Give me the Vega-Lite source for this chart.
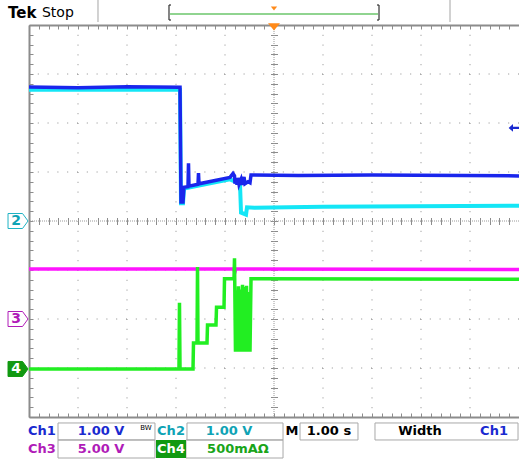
{
  "$schema": "https://vega.github.io/schema/vega-lite/v6.json",
  "width": 490,
  "height": 392,
  "autosize": {"type": "none"},
  "padding": {"left": 29, "top": 25, "right": 0, "bottom": 44},
  "background": "white",
  "config": {
    "view": {"stroke": null},
    "axis": {"grid": false, "labels": false, "title": null, "domain": false, "tickColor": "#8c8c8c", "tickWidth": 1}
  },
  "resolve": {"axis": {"x": "independent", "y": "independent"}},
  "datasets": {
    "gx": [{"v": -4}, {"v": -3}, {"v": -2}, {"v": -1}, {"v": 1}, {"v": 2}, {"v": 3}, {"v": 4}],
    "gy": [{"v": -3}, {"v": -2}, {"v": -1}, {"v": 1}, {"v": 2}, {"v": 3}],
    "center": [{"v": 0}],
    "ch1": [
      {"i": 0, "t": -5.0, "v": 2.735}, {"i": 1, "t": -4.0, "v": 2.72}, {"i": 2, "t": -3.0, "v": 2.74},
      {"i": 3, "t": -1.918, "v": 2.73}, {"i": 4, "t": -1.898, "v": 0.39}, {"i": 5, "t": -1.857, "v": 0.39},
      {"i": 6, "t": -1.837, "v": 0.69}, {"i": 7, "t": -1.755, "v": 0.70}, {"i": 8, "t": -1.745, "v": 1.18},
      {"i": 9, "t": -1.735, "v": 0.71}, {"i": 10, "t": -1.551, "v": 0.75}, {"i": 11, "t": -1.541, "v": 0.98},
      {"i": 12, "t": -1.531, "v": 0.76}, {"i": 13, "t": -0.898, "v": 0.89}, {"i": 14, "t": -0.837, "v": 0.97},
      {"i": 15, "t": -0.806, "v": 0.92}, {"i": 16, "t": -0.796, "v": 0.76}, {"i": 17, "t": -0.776, "v": 0.86},
      {"i": 18, "t": -0.755, "v": 0.74}, {"i": 19, "t": -0.735, "v": 0.88}, {"i": 20, "t": -0.714, "v": 0.75},
      {"i": 21, "t": -0.673, "v": 0.85}, {"i": 22, "t": -0.653, "v": 0.74}, {"i": 23, "t": -0.612, "v": 0.90},
      {"i": 24, "t": -0.592, "v": 0.76}, {"i": 25, "t": -0.531, "v": 0.80}, {"i": 26, "t": -0.49, "v": 0.78},
      {"i": 27, "t": -0.469, "v": 0.94}, {"i": 28, "t": 0.5, "v": 0.93}, {"i": 29, "t": 2.0, "v": 0.94},
      {"i": 30, "t": 5.0, "v": 0.92}
    ],
    "ch2": [
      {"i": 0, "t": -5.0, "v": 2.68}, {"i": 1, "t": -1.918, "v": 2.68}, {"i": 2, "t": -1.898, "v": 0.36},
      {"i": 3, "t": -1.857, "v": 0.36}, {"i": 4, "t": -1.837, "v": 0.66}, {"i": 5, "t": -0.898, "v": 0.85},
      {"i": 6, "t": -0.694, "v": 0.76}, {"i": 7, "t": -0.673, "v": 0.17}, {"i": 8, "t": -0.571, "v": 0.13},
      {"i": 9, "t": -0.551, "v": 0.28}, {"i": 10, "t": -0.4, "v": 0.27}, {"i": 11, "t": 1.0, "v": 0.29},
      {"i": 12, "t": 5.0, "v": 0.31}
    ],
    "ch3": [
      {"i": 0, "t": -5.0, "v": -0.98}, {"i": 1, "t": -0.82, "v": -0.98}, {"i": 2, "t": -0.8, "v": -1.05},
      {"i": 3, "t": -0.78, "v": -0.98}, {"i": 4, "t": 5.0, "v": -0.99}
    ],
    "ch4": [
      {"i": 0, "t": -5.0, "v": -3.02}, {"i": 1, "t": -1.939, "v": -3.02}, {"i": 2, "t": -1.929, "v": -1.67},
      {"i": 3, "t": -1.918, "v": -3.02}, {"i": 4, "t": -1.653, "v": -3.02}, {"i": 5, "t": -1.643, "v": -2.49},
      {"i": 6, "t": -1.571, "v": -2.49}, {"i": 7, "t": -1.561, "v": -0.94}, {"i": 8, "t": -1.551, "v": -2.49},
      {"i": 9, "t": -1.367, "v": -2.49}, {"i": 10, "t": -1.357, "v": -2.12}, {"i": 11, "t": -1.184, "v": -2.12},
      {"i": 12, "t": -1.173, "v": -1.76}, {"i": 13, "t": -1.02, "v": -1.76}, {"i": 14, "t": -1.01, "v": -1.18},
      {"i": 15, "t": -0.816, "v": -1.18}, {"i": 16, "t": -0.806, "v": -0.76}, {"i": 17, "t": -0.786, "v": -2.67},
      {"i": 18, "t": -0.766, "v": -1.42}, {"i": 19, "t": -0.745, "v": -2.67}, {"i": 20, "t": -0.725, "v": -1.33},
      {"i": 21, "t": -0.704, "v": -2.67}, {"i": 22, "t": -0.684, "v": -1.40}, {"i": 23, "t": -0.663, "v": -2.67},
      {"i": 24, "t": -0.643, "v": -1.30}, {"i": 25, "t": -0.622, "v": -2.67}, {"i": 26, "t": -0.602, "v": -1.35},
      {"i": 27, "t": -0.582, "v": -2.67}, {"i": 28, "t": -0.561, "v": -1.32}, {"i": 29, "t": -0.541, "v": -2.67},
      {"i": 30, "t": -0.520, "v": -1.45}, {"i": 31, "t": -0.49, "v": -2.67}, {"i": 32, "t": -0.469, "v": -1.18},
      {"i": 33, "t": 5.0, "v": -1.19}
    ],
    "markers": [
      {"t": -5.224, "v": 0, "k": "c2", "f": "w", "s": "2", "tk": "c2"},
      {"t": -5.224, "v": -2.0, "k": "c3", "f": "w", "s": "3", "tk": "c3"},
      {"t": -5.224, "v": -3.02, "k": "c4", "f": "c4", "s": "4", "tk": "w"}
    ],
    "arrow": [{"t": 4.9, "v": 1.9}],
    "trig": [{"t": 0, "v": 3.96}],
    "trigTop": [{"t": 0, "v": 4.337}],
    "segs": [
      {"x1": -3.592, "x2": -3.592, "y1": 4.51, "y2": 4.061, "k": "gr"},
      {"x1": 3.592, "x2": 3.592, "y1": 4.51, "y2": 4.061, "k": "gr"},
      {"x1": -2.143, "x2": -2.143, "y1": 4.408, "y2": 4.102, "k": "dk"},
      {"x1": -2.143, "x2": -2.102, "y1": 4.408, "y2": 4.408, "k": "dk"},
      {"x1": -2.143, "x2": -2.102, "y1": 4.102, "y2": 4.102, "k": "dk"},
      {"x1": 2.143, "x2": 2.143, "y1": 4.408, "y2": 4.102, "k": "dk"},
      {"x1": 2.102, "x2": 2.143, "y1": 4.408, "y2": 4.408, "k": "dk"},
      {"x1": 2.102, "x2": 2.143, "y1": 4.102, "y2": 4.102, "k": "dk"},
      {"x1": -2.122, "x2": 2.122, "y1": 4.224, "y2": 4.224, "k": "gn"}
    ],
    "boxes": [
      {"x1": -4.408, "x2": -2.429, "y1": -4.122, "y2": -4.469},
      {"x1": -1.776, "x2": 0.184, "y1": -4.122, "y2": -4.469},
      {"x1": 0.531, "x2": 1.714, "y1": -4.122, "y2": -4.469},
      {"x1": 2.061, "x2": 4.98, "y1": -4.122, "y2": -4.469},
      {"x1": -4.408, "x2": -2.429, "y1": -4.469, "y2": -4.837},
      {"x1": -1.796, "x2": 0.184, "y1": -4.469, "y2": -4.837}
    ],
    "ch4bg": [{"x1": -2.408, "x2": -1.796, "y1": -4.469, "y2": -4.837}],
    "status": [
      {"t": -4.735, "v": -4.286, "s": "Ch1", "k": "c1"},
      {"t": -3.531, "v": -4.286, "s": "1.00 V", "k": "c1"},
      {"t": -2.102, "v": -4.286, "s": "Ch2", "k": "c2"},
      {"t": -0.918, "v": -4.286, "s": "1.00 V", "k": "c2"},
      {"t": 0.367, "v": -4.286, "s": "M", "k": "k"},
      {"t": 1.122, "v": -4.286, "s": "1.00 s", "k": "k"},
      {"t": 2.98, "v": -4.286, "s": "Width", "k": "k"},
      {"t": 4.49, "v": -4.286, "s": "Ch1", "k": "c1"},
      {"t": -4.735, "v": -4.653, "s": "Ch3", "k": "c3"},
      {"t": -3.531, "v": -4.653, "s": "5.00 V", "k": "c3"},
      {"t": -2.102, "v": -4.653, "s": "Ch4", "k": "w"},
      {"t": -0.735, "v": -4.653, "s": "500mAΩ", "k": "c4"}
    ],
    "bw": [{"t": -2.612, "v": -4.224, "s": "BW"}],
    "tek": [{"t": -5.429, "v": 4.245, "s": "Tek"}],
    "stop": [{"t": -4.735, "v": 4.245, "s": "Stop"}]
  },
  "layer": [
    {
      "data": {"name": "gx"},
      "mark": {"type": "rule", "color": "#8c8c8c", "strokeDash": [1, 8.8], "strokeWidth": 1},
      "encoding": {
        "x": {"field": "v", "type": "quantitative", "scale": {"domain": [-5, 5], "nice": false, "zero": false},
          "axis": {"orient": "bottom", "values": [-5,-4.8,-4.6,-4.4,-4.2,-4,-3.8,-3.6,-3.4,-3.2,-3,-2.8,-2.6,-2.4,-2.2,-2,-1.8,-1.6,-1.4,-1.2,-1,-0.8,-0.6,-0.4,-0.2,0,0.2,0.4,0.6,0.8,1,1.2,1.4,1.6,1.8,2,2.2,2.4,2.6,2.8,3,3.2,3.4,3.6,3.8,4,4.2,4.4,4.6,4.8,5], "tickSize": -4, "domain": true, "domainColor": "#8c8c8c", "domainWidth": 2}}
      }
    },
    {
      "data": {"name": "gy"},
      "mark": {"type": "rule", "color": "#8c8c8c", "strokeDash": [1, 8.8], "strokeWidth": 1},
      "encoding": {
        "y": {"field": "v", "type": "quantitative", "scale": {"domain": [-4, 4], "nice": false, "zero": false},
          "axis": {"orient": "left", "values": [-4,-3.8,-3.6,-3.4,-3.2,-3,-2.8,-2.6,-2.4,-2.2,-2,-1.8,-1.6,-1.4,-1.2,-1,-0.8,-0.6,-0.4,-0.2,0,0.2,0.4,0.6,0.8,1,1.2,1.4,1.6,1.8,2,2.2,2.4,2.6,2.8,3,3.2,3.4,3.6,3.8,4], "tickSize": -4, "domain": true, "domainColor": "#8c8c8c", "domainWidth": 2}}
      }
    },
    {
      "data": {"name": "center"},
      "mark": {"type": "rule", "color": "#9a9a9a", "strokeDash": [1, 1], "strokeWidth": 1},
      "encoding": {
        "x": {"field": "v", "type": "quantitative", "scale": {"domain": [-5, 5], "nice": false, "zero": false},
          "axis": {"orient": "top", "values": [-5,-4.8,-4.6,-4.4,-4.2,-4,-3.8,-3.6,-3.4,-3.2,-3,-2.8,-2.6,-2.4,-2.2,-2,-1.8,-1.6,-1.4,-1.2,-1,-0.8,-0.6,-0.4,-0.2,0,0.2,0.4,0.6,0.8,1,1.2,1.4,1.6,1.8,2,2.2,2.4,2.6,2.8,3,3.2,3.4,3.6,3.8,4,4.2,4.4,4.6,4.8,5], "tickSize": -4, "domain": true, "domainColor": "#8c8c8c", "domainWidth": 2}}
      }
    },
    {
      "data": {"name": "center"},
      "mark": {"type": "rule", "color": "#9a9a9a", "strokeDash": [1, 1], "strokeWidth": 1},
      "encoding": {
        "y": {"field": "v", "type": "quantitative", "scale": {"domain": [-4, 4], "nice": false, "zero": false},
          "axis": {"orient": "left", "offset": -248.5, "values": [-4,-3.8,-3.6,-3.4,-3.2,-3,-2.8,-2.6,-2.4,-2.2,-2,-1.8,-1.6,-1.4,-1.2,-1,-0.8,-0.6,-0.4,-0.2,0,0.2,0.4,0.6,0.8,1,1.2,1.4,1.6,1.8,2,2.2,2.4,2.6,2.8,3,3.2,3.4,3.6,3.8,4], "tickSize": 7}}
      }
    },
    {
      "data": {"name": "ch3"},
      "mark": {"type": "line", "color": "#ff14ff", "strokeWidth": 3.5},
      "encoding": {
        "x": {"field": "t", "type": "quantitative", "scale": {"domain": [-5, 5], "nice": false, "zero": false},
          "axis": {"orient": "bottom", "offset": -199.5, "values": [-5,-4.8,-4.6,-4.4,-4.2,-4,-3.8,-3.6,-3.4,-3.2,-3,-2.8,-2.6,-2.4,-2.2,-2,-1.8,-1.6,-1.4,-1.2,-1,-0.8,-0.6,-0.4,-0.2,0,0.2,0.4,0.6,0.8,1,1.2,1.4,1.6,1.8,2,2.2,2.4,2.6,2.8,3,3.2,3.4,3.6,3.8,4,4.2,4.4,4.6,4.8,5], "tickSize": 7}},
        "y": {"field": "v", "type": "quantitative", "scale": {"domain": [-4, 4], "nice": false, "zero": false}, "axis": null},
        "order": {"field": "i", "type": "quantitative"}
      }
    },
    {
      "data": {"name": "ch4"},
      "mark": {"type": "line", "color": "#22ee22", "strokeWidth": 3.5},
      "encoding": {
        "x": {"field": "t", "type": "quantitative", "scale": {"domain": [-5, 5], "nice": false, "zero": false}, "axis": null},
        "y": {"field": "v", "type": "quantitative", "scale": {"domain": [-4, 4], "nice": false, "zero": false}, "axis": null},
        "order": {"field": "i", "type": "quantitative"}
      }
    },
    {
      "data": {"name": "ch2"},
      "mark": {"type": "line", "color": "#14e6f6", "strokeWidth": 4},
      "encoding": {
        "x": {"field": "t", "type": "quantitative", "scale": {"domain": [-5, 5], "nice": false, "zero": false}, "axis": null},
        "y": {"field": "v", "type": "quantitative", "scale": {"domain": [-4, 4], "nice": false, "zero": false}, "axis": null},
        "order": {"field": "i", "type": "quantitative"}
      }
    },
    {
      "data": {"name": "ch1"},
      "mark": {"type": "line", "color": "#1a26ec", "strokeWidth": 3.5},
      "encoding": {
        "x": {"field": "t", "type": "quantitative", "scale": {"domain": [-5, 5], "nice": false, "zero": false}, "axis": null},
        "y": {"field": "v", "type": "quantitative", "scale": {"domain": [-4, 4], "nice": false, "zero": false}, "axis": null},
        "order": {"field": "i", "type": "quantitative"}
      }
    },
    {
      "data": {"name": "markers"},
      "mark": {"type": "point", "shape": "M-1,-0.75L0.45,-0.75L1,0L0.45,0.75L-1,0.75Z", "size": 400, "strokeWidth": 1, "filled": false, "opacity": 1},
      "encoding": {
        "x": {"field": "t", "type": "quantitative", "scale": {"domain": [-5, 5], "nice": false, "zero": false}, "axis": null},
        "y": {"field": "v", "type": "quantitative", "scale": {"domain": [-4, 4], "nice": false, "zero": false}, "axis": null},
        "stroke": {"field": "k", "type": "nominal", "legend": null, "scale": {"domain": ["c2", "c3", "c4"], "range": ["#1fb3c4", "#b01cb8", "#119911"]}},
        "fill": {"field": "f", "type": "nominal", "legend": null, "scale": {"domain": ["w", "c4"], "range": ["#ffffff", "#119911"]}}
      }
    },
    {
      "data": {"name": "markers"},
      "mark": {"type": "text", "font": "DejaVu Sans", "fontSize": 14, "fontWeight": "bold", "align": "center", "baseline": "middle", "dx": -2},
      "encoding": {
        "x": {"field": "t", "type": "quantitative", "scale": {"domain": [-5, 5], "nice": false, "zero": false}, "axis": null},
        "y": {"field": "v", "type": "quantitative", "scale": {"domain": [-4, 4], "nice": false, "zero": false}, "axis": null},
        "text": {"field": "s"},
        "color": {"field": "tk", "type": "nominal", "legend": null, "scale": {"domain": ["c1","c2","c3","c4","k","w","gr","dk","gn"], "range": ["#1a2ad0","#0fa3b5","#b01cb8","#1aa51a","#000000","#ffffff","#b4b4b4","#333333","#22aa22"]}}
      }
    },
    {
      "data": {"name": "arrow"},
      "mark": {"type": "point", "shape": "M-1,0L-0.2,-0.7L-0.2,-0.2L1,-0.2L1,0.2L-0.2,0.2L-0.2,0.7Z", "size": 120, "filled": true, "color": "#1a2ad0", "opacity": 1},
      "encoding": {
        "x": {"field": "t", "type": "quantitative", "scale": {"domain": [-5, 5], "nice": false, "zero": false}, "axis": null},
        "y": {"field": "v", "type": "quantitative", "scale": {"domain": [-4, 4], "nice": false, "zero": false}, "axis": null}
      }
    },
    {
      "data": {"name": "trig"},
      "mark": {"type": "point", "shape": "M-1,-0.6L1,-0.6L0,0.6Z", "size": 144, "filled": true, "color": "#ff8a1a", "opacity": 1},
      "encoding": {
        "x": {"field": "t", "type": "quantitative", "scale": {"domain": [-5, 5], "nice": false, "zero": false}, "axis": null},
        "y": {"field": "v", "type": "quantitative", "scale": {"domain": [-4, 4], "nice": false, "zero": false}, "axis": null}
      }
    },
    {
      "data": {"name": "trigTop"},
      "mark": {"type": "point", "shape": "M-1,-0.6L1,-0.6L0,0.6Z", "size": 40, "filled": true, "color": "#ff8a1a", "opacity": 1},
      "encoding": {
        "x": {"field": "t", "type": "quantitative", "scale": {"domain": [-5, 5], "nice": false, "zero": false}, "axis": null},
        "y": {"field": "v", "type": "quantitative", "scale": {"domain": [-4, 4], "nice": false, "zero": false}, "axis": null}
      }
    },
    {
      "data": {"name": "segs"},
      "mark": {"type": "rule", "strokeWidth": 1.2},
      "encoding": {
        "x": {"field": "x1", "type": "quantitative", "scale": {"domain": [-5, 5], "nice": false, "zero": false}, "axis": null},
        "x2": {"field": "x2"},
        "y": {"field": "y1", "type": "quantitative", "scale": {"domain": [-4, 4], "nice": false, "zero": false}, "axis": null},
        "y2": {"field": "y2"},
        "color": {"field": "k", "type": "nominal", "legend": null, "scale": {"domain": ["c1","c2","c3","c4","k","w","gr","dk","gn"], "range": ["#1a2ad0","#0fa3b5","#b01cb8","#1aa51a","#000000","#ffffff","#b4b4b4","#333333","#22aa22"]}}
      }
    },
    {
      "data": {"name": "boxes"},
      "mark": {"type": "rect", "fill": null, "fillOpacity": 0, "stroke": "#a8a8a8", "strokeWidth": 1},
      "encoding": {
        "x": {"field": "x1", "type": "quantitative", "scale": {"domain": [-5, 5], "nice": false, "zero": false}, "axis": null},
        "x2": {"field": "x2"},
        "y": {"field": "y1", "type": "quantitative", "scale": {"domain": [-4, 4], "nice": false, "zero": false}, "axis": null},
        "y2": {"field": "y2"}
      }
    },
    {
      "data": {"name": "ch4bg"},
      "mark": {"type": "rect", "fill": "#119911"},
      "encoding": {
        "x": {"field": "x1", "type": "quantitative", "scale": {"domain": [-5, 5], "nice": false, "zero": false}, "axis": null},
        "x2": {"field": "x2"},
        "y": {"field": "y1", "type": "quantitative", "scale": {"domain": [-4, 4], "nice": false, "zero": false}, "axis": null},
        "y2": {"field": "y2"}
      }
    },
    {
      "data": {"name": "status"},
      "mark": {"type": "text", "font": "DejaVu Sans", "fontSize": 13, "fontWeight": "bold", "align": "center", "baseline": "middle"},
      "encoding": {
        "x": {"field": "t", "type": "quantitative", "scale": {"domain": [-5, 5], "nice": false, "zero": false}, "axis": null},
        "y": {"field": "v", "type": "quantitative", "scale": {"domain": [-4, 4], "nice": false, "zero": false}, "axis": null},
        "text": {"field": "s"},
        "color": {"field": "k", "type": "nominal", "legend": null, "scale": {"domain": ["c1","c2","c3","c4","k","w","gr","dk","gn"], "range": ["#1a2ad0","#0fa3b5","#b01cb8","#1aa51a","#000000","#ffffff","#b4b4b4","#333333","#22aa22"]}}
      }
    },
    {
      "data": {"name": "bw"},
      "mark": {"type": "text", "font": "DejaVu Sans", "fontSize": 7, "align": "center", "baseline": "middle", "color": "#000000"},
      "encoding": {
        "x": {"field": "t", "type": "quantitative", "scale": {"domain": [-5, 5], "nice": false, "zero": false}, "axis": null},
        "y": {"field": "v", "type": "quantitative", "scale": {"domain": [-4, 4], "nice": false, "zero": false}, "axis": null},
        "text": {"field": "s"}
      }
    },
    {
      "data": {"name": "tek"},
      "mark": {"type": "text", "font": "DejaVu Sans", "fontSize": 15, "fontWeight": "bold", "align": "left", "baseline": "middle", "color": "#000000"},
      "encoding": {
        "x": {"field": "t", "type": "quantitative", "scale": {"domain": [-5, 5], "nice": false, "zero": false}, "axis": null},
        "y": {"field": "v", "type": "quantitative", "scale": {"domain": [-4, 4], "nice": false, "zero": false}, "axis": null},
        "text": {"field": "s"}
      }
    },
    {
      "data": {"name": "stop"},
      "mark": {"type": "text", "font": "DejaVu Sans", "fontSize": 14, "align": "left", "baseline": "middle", "color": "#000000"},
      "encoding": {
        "x": {"field": "t", "type": "quantitative", "scale": {"domain": [-5, 5], "nice": false, "zero": false}, "axis": null},
        "y": {"field": "v", "type": "quantitative", "scale": {"domain": [-4, 4], "nice": false, "zero": false}, "axis": null},
        "text": {"field": "s"}
      }
    }
  ]
}
